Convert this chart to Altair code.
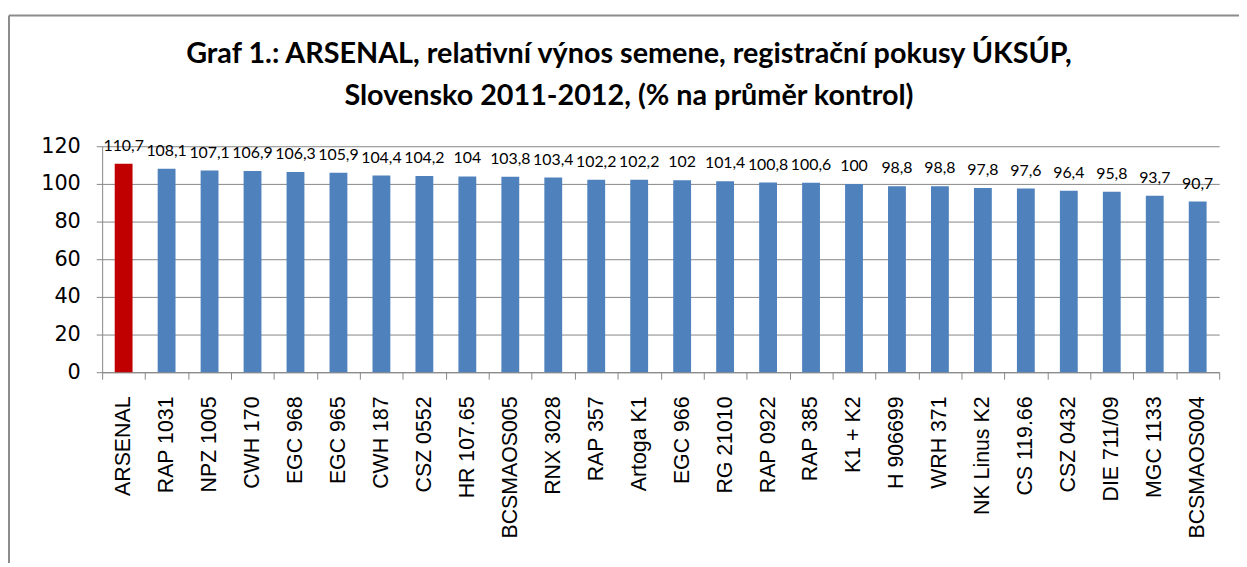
import altair as alt
import pandas as pd

categories = ["ARSENAL", "RAP 1031", "NPZ 1005", "CWH 170", "EGC 968", "EGC 965",
              "CWH 187", "CSZ 0552", "HR 107.65", "BCSMAOS005", "RNX 3028", "RAP 357",
              "Artoga K1", "EGC 966", "RG 21010", "RAP 0922", "RAP 385", "K1 + K2",
              "H 906699", "WRH 371", "NK Linus K2", "CS 119.66", "CSZ 0432",
              "DIE 711/09", "MGC 1133", "BCSMAOS004"]
values = [110.7, 108.1, 107.1, 106.9, 106.3, 105.9, 104.4, 104.2, 104, 103.8, 103.4,
          102.2, 102.2, 102, 101.4, 100.8, 100.6, 100, 98.8, 98.8, 97.8, 97.6, 96.4,
          95.8, 93.7, 90.7]
highlight = ["ARSENAL"]
y_ticks = [0, 20, 40, 60, 80, 100, 120]

def fmt(v):
    s = f"{v:g}"
    return s.replace(".", ",")

df = pd.DataFrame({
    "odroda": categories,
    "hodnota": values,
    "label": [fmt(v) for v in values],
    "typ": ["hl" if c in highlight else "ost" for c in categories],
})

x = alt.X("odroda:N", sort=categories, title=None,
          scale=alt.Scale(paddingInner=0, paddingOuter=0),
          axis=alt.Axis(labelAngle=-90, labelFont="Liberation Sans", labelFontSize=21.5,
                        labelColor="#000000", labelPadding=17, labelAlign="right",
                        labelBaseline="middle",
                        tickBand="extent", tickSize=7, tickColor="#868686",
                        domainColor="#868686", grid=False, labelOverlap=False))
y = alt.Y("hodnota:Q", title=None,
          scale=alt.Scale(domain=[0, 120], nice=False),
          axis=alt.Axis(values=y_ticks, labelFont="DejaVu Sans",
                        labelFontSize=21, labelColor="#000000", labelPadding=16,
                        labelOverlap=False, labelFlush=False,
                        tickSize=6, tickColor="#868686", domainColor="#868686",
                        grid=True, gridColor="#868686", gridWidth=1, gridOpacity=1))

bars = alt.Chart(df).mark_bar(size=18).encode(
    x=x, y=y,
    color=alt.Color("typ:N", scale=alt.Scale(domain=["hl", "ost"],
                                             range=["#C00000", "#4F81BD"]), legend=None),
)
labels = alt.Chart(df).mark_text(font="Lato", fontSize=16, baseline="bottom", dy=-10,
                                 color="#000000").encode(
    x=x, y=y, text="label:N")

border = alt.Chart(alt.Data(values=[{}])).mark_rule(color="#8c8c8c", strokeWidth=2).encode(
    x=alt.value(-94), x2=alt.value(2000), y=alt.value(-132))
border2 = alt.Chart(alt.Data(values=[{}])).mark_rule(color="#8c8c8c", strokeWidth=2).encode(
    x=alt.value(-94), y=alt.value(-132), y2=alt.value(600))

chart = alt.layer(bars, labels, border, border2).properties(
    width=1127, height=228,
    title=alt.TitleParams(
        text=["Graf 1.: ARSENAL, relativní výnos semene, registrační pokusy  ÚKSÚP,",
              "Slovensko  2011-2012, (% na průměr kontrol)"],
        font="Lato", fontSize=29, fontWeight="bold", color="#000000",
        anchor="middle", lineHeight=42, dx=-32, offset=-97),
    autosize=alt.AutoSizeParams(type="none"),
    padding={"left": 95, "top": 137, "right": 20, "bottom": 190},
).configure_view(stroke=None)

chart.save("out.html", embed_options={"renderer": "svg", "actions": False})
